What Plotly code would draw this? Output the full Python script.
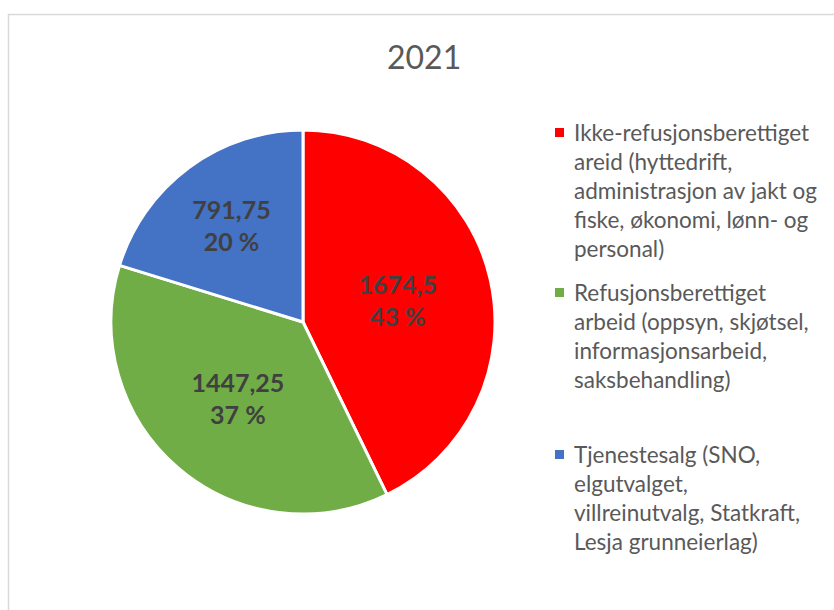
import plotly.graph_objects as go

title_text = "2021"
categories = [
    "Ikke-refusjonsberettiget areid (hyttedrift, administrasjon av jakt og fiske, økonomi, lønn- og personal)",
    "Refusjonsberettiget arbeid (oppsyn, skjøtsel, informasjonsarbeid, saksbehandling)",
    "Tjenestesalg (SNO, elgutvalget, villreinutvalg, Statkraft, Lesja grunneierlag)",
]
legend_lines = [
    ["Ikke-refusjonsberettiget", "areid (hyttedrift,", "administrasjon av jakt og", "fiske, økonomi, lønn- og", "personal)"],
    ["Refusjonsberettiget", "arbeid (oppsyn, skjøtsel,", "informasjonsarbeid,", "saksbehandling)"],
    ["Tjenestesalg (SNO,", "elgutvalget,", "villreinutvalg, Statkraft,", "Lesja grunneierlag)"],
]
values = [1674.5, 1447.25, 791.75]
colors = ["#FF0000", "#70AD47", "#4472C4"]

W, H = 834, 610
total = sum(values)
pcts = [str(round(100 * v / total)) for v in values]

def px_x(x):
    return x / W

def px_y(y):
    return 1 - y / H

fig = go.Figure()
fig.add_trace(go.Pie(
    labels=categories,
    values=values,
    customdata=pcts,
    sort=False,
    direction="clockwise",
    rotation=0,
    marker=dict(colors=colors, line=dict(color="white", width=3)),
    texttemplate="<b>%{value:.2~f}<br>%{customdata} %</b>",
    textposition="inside",
    insidetextorientation="horizontal",
    textfont=dict(family="Lato", size=25, color="#404040"),
    hoverinfo="label+value+percent",
    showlegend=False,
    domain=dict(x=[px_x(111), px_x(495)], y=[px_y(514), px_y(130)]),
))

annotations = [dict(
    text=title_text, x=px_x(424), y=px_y(57), xref="paper", yref="paper",
    showarrow=False, xanchor="center", yanchor="middle",
    font=dict(family="Lato", size=32, color="#595959"),
)]
shapes = [dict(
    type="rect", xref="paper", yref="paper",
    x0=px_x(8.5), y0=px_y(14.5), x1=1.2, y1=-0.2,
    line=dict(color="#D9D9D9", width=1.5), fillcolor="rgba(0,0,0,0)", layer="below",
)]

first_baselines = [140, 300, 462]
line_step = 29
for i, lines in enumerate(legend_lines):
    b0 = first_baselines[i]
    for j, ln in enumerate(lines):
        annotations.append(dict(
            text=ln, x=px_x(572), y=px_y(b0 + j * line_step - 7.5), xref="paper", yref="paper",
            showarrow=False, xanchor="left", yanchor="middle",
            font=dict(family="Lato", size=22.5, color="#595959"),
        ))
    cy = b0 - 7.5
    shapes.append(dict(
        type="rect", xref="paper", yref="paper",
        x0=px_x(555), x1=px_x(564), y0=px_y(cy - 4.5), y1=px_y(cy + 4.5),
        fillcolor=colors[i], line=dict(width=0),
    ))

fig.update_layout(
    width=W, height=H,
    margin=dict(l=0, r=0, t=0, b=0),
    paper_bgcolor="white",
    plot_bgcolor="white",
    separators=", ",
    annotations=annotations,
    shapes=shapes,
)

fig.write_html(
    "out.html",
    config={"displayModeBar": False},
    post_script="document.body.style.margin='0';document.body.style.overflow='hidden';",
)
